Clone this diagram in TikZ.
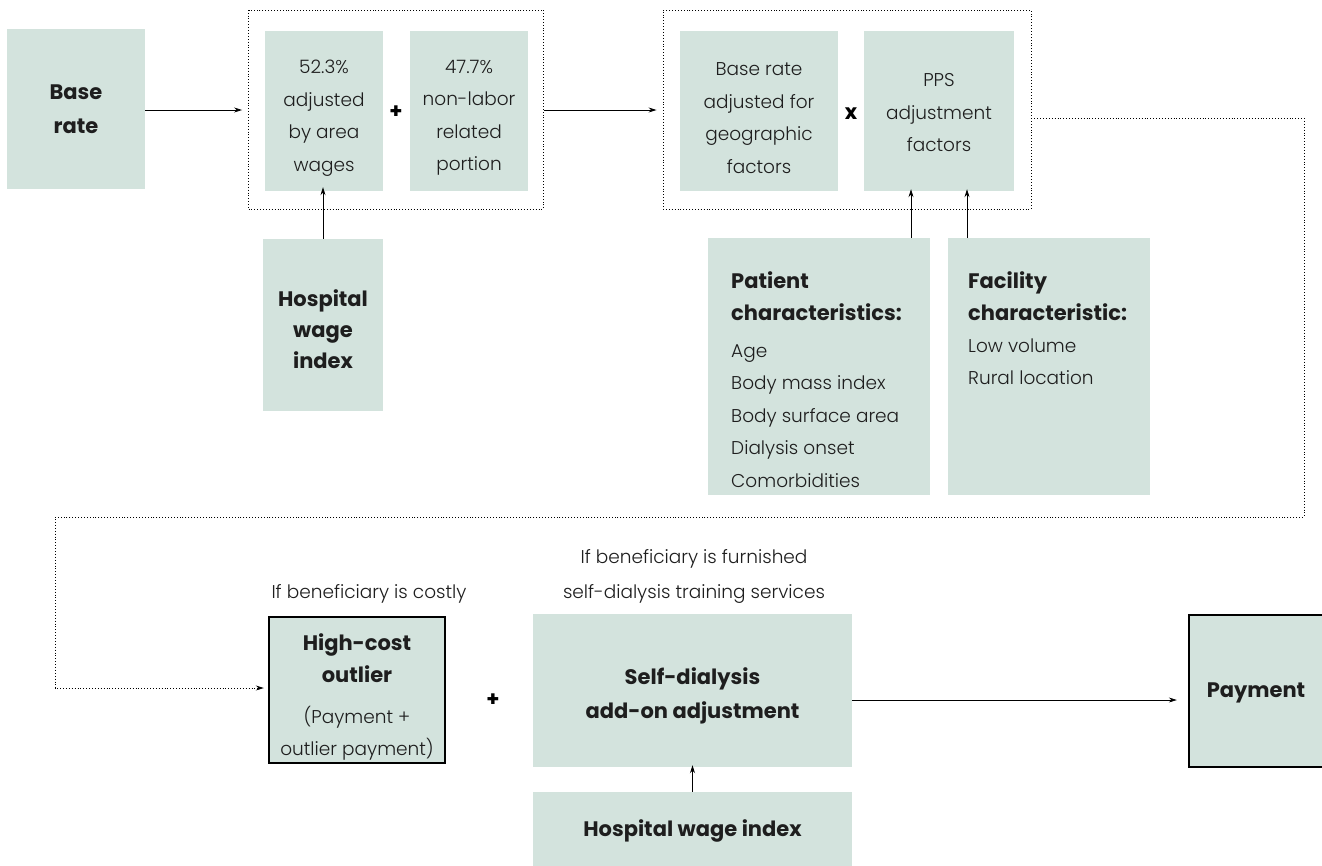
\documentclass[tikz,border=0pt]{standalone}
\usepackage{fontspec}
\setmainfont{Poppins}[UprightFont=* Light, BoldFont=* Bold]
\usetikzlibrary{arrows.meta}
\definecolor{boxfill}{RGB}{211,227,221}
\definecolor{txt}{RGB}{30,30,30}
\newcommand\regf{\fontsize{18.5}{32.5}\selectfont}
\newcommand\bldf{\bfseries\fontsize{21}{34}\selectfont}
\begin{document}
\begin{tikzpicture}[x=1pt,y=-1pt,
  box/.style={fill=boxfill, draw=none, inner sep=0pt, align=center, text=txt, font=\regf},
  bbox/.style={box, font=\bldf},
  thickbox/.style={box, draw=black, line width=2.4pt},
  dotbox/.style={draw=black, dotted, line width=0.9pt, inner sep=0pt},
  plain/.style={inner sep=0pt, text=txt, font=\regf, align=center},
  txtl/.style={inner sep=0pt, text=txt, font=\regf, align=left},
  op/.style={inner sep=0pt, text=black, font=\bldf},
  arr/.style={line width=0.8pt, -{Stealth[length=8pt,width=5pt]}},
  darr/.style={line width=0.9pt, dotted, -{Stealth[length=8pt,width=5pt]}}
]
\useasboundingbox (0,0) rectangle (1322,865);
\fill[white] (0,0) rectangle (1322,865);

% top row
\node[bbox, minimum width=138pt, minimum height=160pt] (base) at (76,109) {Base\\rate};
\node[dotbox, minimum width=295pt, minimum height=199pt] (dotA) at (396,109.5) {};
\node[box, minimum width=118pt, minimum height=160pt] (p52) at (324,111) {};
\node[plain] (p52t) at (324,118) {52.3\%\\adjusted\\by area\\wages};
\node[box, minimum width=118pt, minimum height=160pt] (p47) at (469,111) {};
\node[plain] (p47t) at (469,118) {47.7\%\\non-labor\\related\\portion};
\node[op] (plus1) at (396,112) {+};
\node[bbox, minimum width=120pt, minimum height=172pt] (hwi1) at (323,325) {};
\node[plain, font=\bfseries\fontsize{21}{31}\selectfont] (hwi1t) at (323,329) {Hospital\\wage\\index};

\node[dotbox, minimum width=368pt, minimum height=199pt] (dotB) at (847,109.5) {};
\node[box, minimum width=158pt, minimum height=160pt] (geo) at (759,111) {};
\node[plain] (geot) at (759,118) {Base rate\\adjusted for\\geographic\\factors};
\node[box, minimum width=150pt, minimum height=160pt] (pps) at (939,111) {};
\node[plain] (ppst) at (939,113) {PPS\\adjustment\\factors};
\node[op] (times) at (851,114) {x};

\node[box, minimum width=222pt, minimum height=257pt] (pat) at (819,366.5) {};
\node[txtl, anchor=north west] (patt) at (731,271) {\textbf{\fontsize{21}{34}\selectfont Patient}\\\textbf{\fontsize{21}{34}\selectfont characteristics:}\\[4pt]Age\\Body mass index\\Body surface area\\Dialysis onset\\Comorbidities};
\node[box, minimum width=202pt, minimum height=257pt] (fac) at (1049,366.5) {};
\node[txtl, anchor=north west] (fact) at (968,271) {\textbf{\fontsize{21}{34}\selectfont Facility}\\\textbf{\fontsize{21}{34}\selectfont characteristic:}\\[-1pt]Low volume\\Rural location};

% bottom row
\node[thickbox, minimum width=176pt, minimum height=146pt] (hc) at (357,690) {};
\node[plain] (hct) at (357,697) {\textbf{\fontsize{21}{33}\selectfont High-cost}\\\textbf{\fontsize{21}{33}\selectfont outlier}\\[8pt](Payment +\\outlier payment)};
\node[plain] (hcl) at (369,594) {If beneficiary is costly};
\node[op] (plus2) at (493,700) {+};
\node[bbox, minimum width=319pt, minimum height=153pt] (sd) at (692.5,690.5) {};
\node[plain, font=\bldf] (sdt) at (692.5,696) {Self-dialysis\\add-on adjustment};
\node[plain, font=\fontsize{18.5}{35}\selectfont] (sdl) at (694,576) {If beneficiary is furnished\\self-dialysis training services};
\node[thickbox, font=\bldf, minimum width=135pt, minimum height=152pt] (pay) at (1256.5,691) {};
\node[plain, font=\bldf] (payt) at (1256,693) {Payment};
\node[bbox, minimum width=319pt, minimum height=78pt] (hwi2) at (692.5,831) {Hospital wage index};

% connectors
\draw[arr, shorten >=6pt] (base.east |- 0,110) -- (dotA.west |- 0,110);
\draw[arr, shorten >=6pt] (dotA.east |- 0,110) -- (dotB.west |- 0,110);
\draw[arr, shorten >=-4pt] (hwi1.north) -- (hwi1.north |- p52.south);
\coordinate (a1) at (911,0);
\coordinate (a2) at (967,0);
\draw[arr, shorten >=-2pt] (a1 |- pat.north) -- (a1 |- pps.south);
\draw[arr, shorten >=-2pt] (a2 |- fac.north) -- (a2 |- pps.south);
\coordinate (c1) at (1304,118);
\coordinate (c2) at (1304,517);
\coordinate (c3) at (55,517);
\coordinate (c4) at (55,688);
\draw[darr, shorten >=4pt] (dotB.east |- c1) -- (c1) -- (c2) -- (c3) -- (c4) -- (c4 -| hc.west);
\draw[arr, shorten >=11pt] (sd.east |- 0,700) -- (pay.west |- 0,700);
\draw[arr, shorten >=-2pt] (hwi2.north) -- (sd.south);
\end{tikzpicture}
\end{document}
